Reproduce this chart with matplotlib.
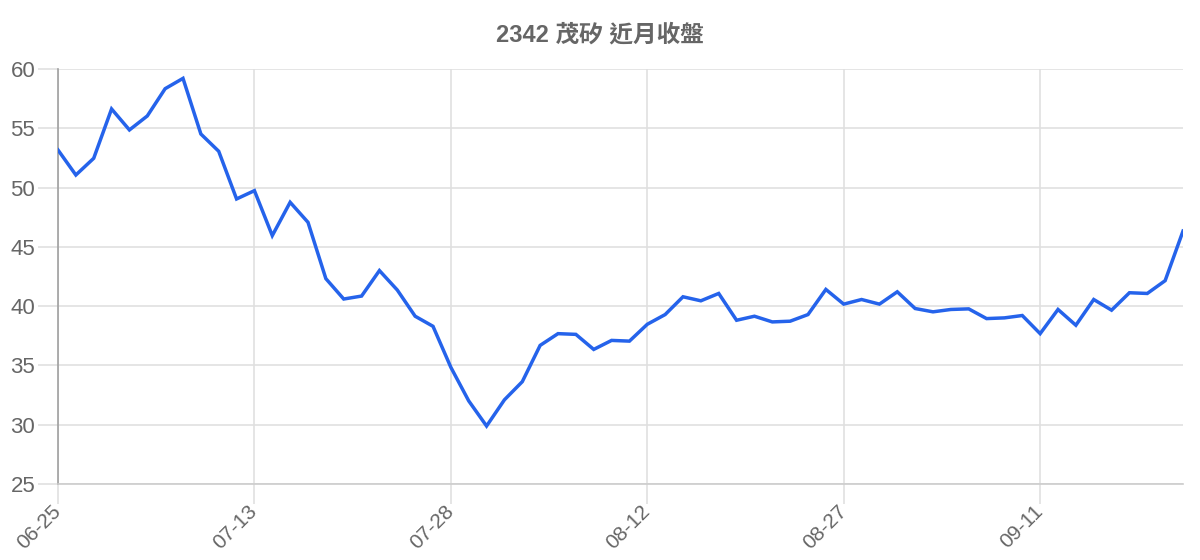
import matplotlib
matplotlib.use("Agg")
import matplotlib.pyplot as plt

# 2342 茂矽 closing prices, one value per trading day
close_prices = [
    53.17, 51.06, 52.47, 56.63, 54.86, 56.04, 58.34, 59.21, 54.52, 53.06,
    49.04, 49.74, 45.95, 48.76, 47.07, 42.32, 40.60, 40.85, 43.00, 41.36,
    39.15, 38.30, 34.84, 32.01, 29.89, 32.10, 33.63, 36.69, 37.68, 37.62,
    36.35, 37.11, 37.05, 38.47, 39.29, 40.79, 40.45, 41.07, 38.81, 39.15,
    38.67, 38.73, 39.29, 41.41, 40.17, 40.56, 40.17, 41.21, 39.80, 39.52,
    39.72, 39.77, 38.95, 39.01, 39.21, 37.68, 39.72, 38.39, 40.56, 39.66,
    41.13, 41.07, 42.15, 46.33,
]
tick_positions = [0, 11, 22, 33, 44, 55]
tick_labels = ["06-25", "07-13", "07-28", "08-12", "08-27", "09-11"]
y_ticks = [25, 30, 35, 40, 45, 50, 55, 60]
title = "2342 茂矽 近月收盤"

text_gray = "#666666"
grid_gray = "#e0e0e0"
line_blue = "#2563eb"

fig = plt.figure(figsize=(12, 5.6), dpi=100)
ax = fig.add_axes([58 / 1200, 1 - 484 / 560, (1183 - 58) / 1200, (484 - 69) / 560])

ax.plot(range(len(close_prices)), close_prices, color=line_blue, linewidth=2.5,
        solid_joinstyle="miter", zorder=3)

ax.set_xlim(0, len(close_prices) - 1)
ax.set_ylim(25, 60)
ax.set_yticks(y_ticks)
ax.set_xticks(tick_positions)
ax.set_xticklabels(tick_labels, rotation=45, ha="right", va="center", rotation_mode="anchor",
                   family=["Liberation Sans", "DejaVu Sans"], fontsize=15, color=text_gray)
ax.set_yticklabels([str(v) for v in y_ticks], family=["Liberation Sans", "DejaVu Sans"],
                   fontsize=16, color=text_gray)

ax.grid(True, color=grid_gray, linewidth=1.2, zorder=0)
ax.tick_params(axis="both", length=14.4, width=1.2, color=grid_gray)
ax.tick_params(axis="y", pad=2)
ax.tick_params(axis="x", pad=3)

for side in ["top", "right"]:
    ax.spines[side].set_visible(False)
ax.spines["left"].set_color("#a0a0a0")
ax.spines["left"].set_linewidth(1.2)
ax.spines["bottom"].set_color("#cccccc")
ax.spines["bottom"].set_linewidth(1.2)

fig.text(600 / 1200, 1 - 35 / 560, title, ha="center", va="center", fontsize=17,
         fontweight="bold", color=text_gray,
         family=["Liberation Sans", "Noto Sans CJK TC", "DejaVu Sans"])

fig.savefig("out.png", dpi=100, facecolor="white")
